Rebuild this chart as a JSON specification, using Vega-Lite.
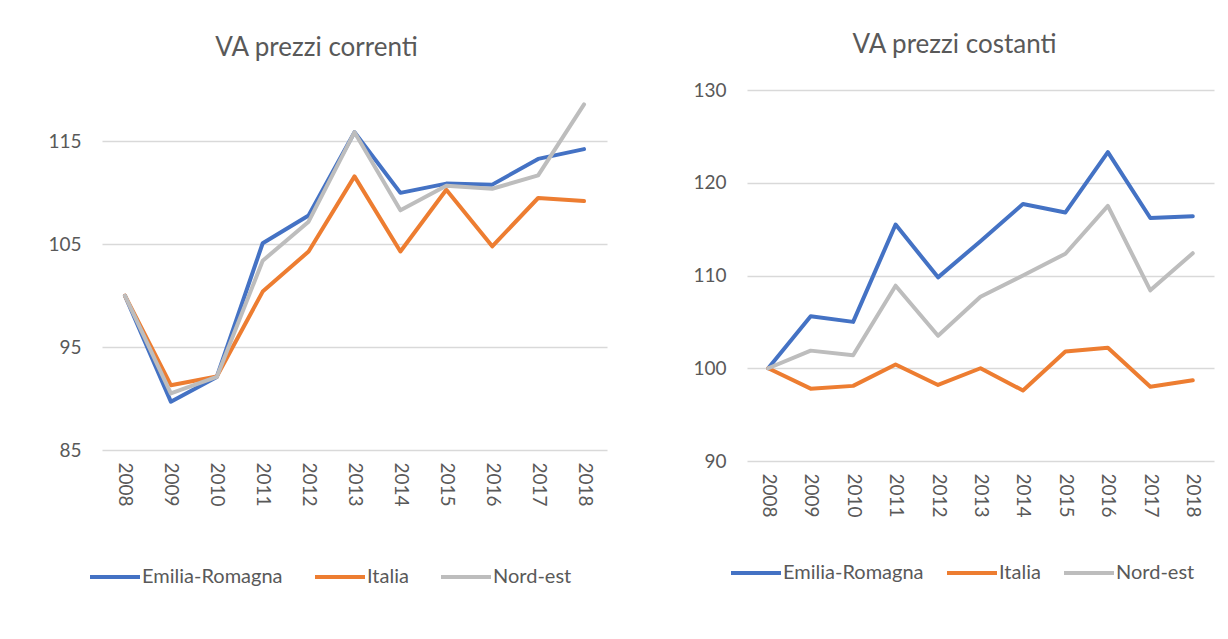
{
  "$schema": "https://vega.github.io/schema/vega-lite/v6.json",
  "background": "white",
  "padding": {"left": 47, "top": 32, "right": 5, "bottom": 5},
  "spacing": 85,
  "datasets": {
    "correnti": [
      {"anno": "2008", "serie": "Emilia-Romagna", "valore": 100.0},
      {"anno": "2009", "serie": "Emilia-Romagna", "valore": 89.7},
      {"anno": "2010", "serie": "Emilia-Romagna", "valore": 92.1},
      {"anno": "2011", "serie": "Emilia-Romagna", "valore": 105.1},
      {"anno": "2012", "serie": "Emilia-Romagna", "valore": 107.8},
      {"anno": "2013", "serie": "Emilia-Romagna", "valore": 115.9},
      {"anno": "2014", "serie": "Emilia-Romagna", "valore": 110.0},
      {"anno": "2015", "serie": "Emilia-Romagna", "valore": 110.9},
      {"anno": "2016", "serie": "Emilia-Romagna", "valore": 110.8},
      {"anno": "2017", "serie": "Emilia-Romagna", "valore": 113.3},
      {"anno": "2018", "serie": "Emilia-Romagna", "valore": 114.25},
      {"anno": "2008", "serie": "Italia", "valore": 100.0},
      {"anno": "2009", "serie": "Italia", "valore": 91.3},
      {"anno": "2010", "serie": "Italia", "valore": 92.15},
      {"anno": "2011", "serie": "Italia", "valore": 100.4},
      {"anno": "2012", "serie": "Italia", "valore": 104.3},
      {"anno": "2013", "serie": "Italia", "valore": 111.6},
      {"anno": "2014", "serie": "Italia", "valore": 104.3},
      {"anno": "2015", "serie": "Italia", "valore": 110.3},
      {"anno": "2016", "serie": "Italia", "valore": 104.8},
      {"anno": "2017", "serie": "Italia", "valore": 109.5},
      {"anno": "2018", "serie": "Italia", "valore": 109.2},
      {"anno": "2008", "serie": "Nord-est", "valore": 100.0},
      {"anno": "2009", "serie": "Nord-est", "valore": 90.5},
      {"anno": "2010", "serie": "Nord-est", "valore": 92.1},
      {"anno": "2011", "serie": "Nord-est", "valore": 103.4},
      {"anno": "2012", "serie": "Nord-est", "valore": 107.2},
      {"anno": "2013", "serie": "Nord-est", "valore": 115.9},
      {"anno": "2014", "serie": "Nord-est", "valore": 108.3},
      {"anno": "2015", "serie": "Nord-est", "valore": 110.7},
      {"anno": "2016", "serie": "Nord-est", "valore": 110.4},
      {"anno": "2017", "serie": "Nord-est", "valore": 111.7},
      {"anno": "2018", "serie": "Nord-est", "valore": 118.6}
    ],
    "costanti": [
      {"anno": "2008", "serie": "Emilia-Romagna", "valore": 100.0},
      {"anno": "2009", "serie": "Emilia-Romagna", "valore": 105.6},
      {"anno": "2010", "serie": "Emilia-Romagna", "valore": 105.0},
      {"anno": "2011", "serie": "Emilia-Romagna", "valore": 115.5},
      {"anno": "2012", "serie": "Emilia-Romagna", "valore": 109.8},
      {"anno": "2013", "serie": "Emilia-Romagna", "valore": 113.7},
      {"anno": "2014", "serie": "Emilia-Romagna", "valore": 117.7},
      {"anno": "2015", "serie": "Emilia-Romagna", "valore": 116.8},
      {"anno": "2016", "serie": "Emilia-Romagna", "valore": 123.3},
      {"anno": "2017", "serie": "Emilia-Romagna", "valore": 116.2},
      {"anno": "2018", "serie": "Emilia-Romagna", "valore": 116.4},
      {"anno": "2008", "serie": "Italia", "valore": 100.0},
      {"anno": "2009", "serie": "Italia", "valore": 97.8},
      {"anno": "2010", "serie": "Italia", "valore": 98.1},
      {"anno": "2011", "serie": "Italia", "valore": 100.4},
      {"anno": "2012", "serie": "Italia", "valore": 98.2},
      {"anno": "2013", "serie": "Italia", "valore": 100.0},
      {"anno": "2014", "serie": "Italia", "valore": 97.6},
      {"anno": "2015", "serie": "Italia", "valore": 101.8},
      {"anno": "2016", "serie": "Italia", "valore": 102.2},
      {"anno": "2017", "serie": "Italia", "valore": 98.0},
      {"anno": "2018", "serie": "Italia", "valore": 98.7},
      {"anno": "2008", "serie": "Nord-est", "valore": 100.0},
      {"anno": "2009", "serie": "Nord-est", "valore": 101.9},
      {"anno": "2010", "serie": "Nord-est", "valore": 101.4},
      {"anno": "2011", "serie": "Nord-est", "valore": 108.9},
      {"anno": "2012", "serie": "Nord-est", "valore": 103.5},
      {"anno": "2013", "serie": "Nord-est", "valore": 107.7},
      {"anno": "2014", "serie": "Nord-est", "valore": 110.0},
      {"anno": "2015", "serie": "Nord-est", "valore": 112.35},
      {"anno": "2016", "serie": "Nord-est", "valore": 117.5},
      {"anno": "2017", "serie": "Nord-est", "valore": 108.4},
      {"anno": "2018", "serie": "Nord-est", "valore": 112.4}
    ]
  },
  "resolve": {"legend": {"color": "independent"}},
  "hconcat": [
    {
      "title": {"text": "VA prezzi correnti", "offset": 29, "dx": -38},
      "width": 505,
      "height": 360,
      "data": {"name": "correnti"},
      "mark": {"type": "line", "strokeWidth": 4, "strokeCap": "round", "strokeJoin": "round"},
      "encoding": {
        "x": {"field": "anno", "type": "ordinal", "title": null, "scale": {"type": "point", "padding": 0.5}},
        "y": {"field": "valore", "type": "quantitative", "title": null,
              "scale": {"domain": [85, 120], "nice": false, "zero": false},
              "axis": {"values": [85, 95, 105, 115]}},
        "color": {"field": "serie", "type": "nominal", "title": null,
                  "scale": {"domain": ["Emilia-Romagna", "Italia", "Nord-est"], "range": ["#4472C4", "#ED7D31", "#BDBDBD"]},
                  "legend": {"columnPadding": 24, "orient": "none", "legendX": -14, "legendY": 460}}
      }
    },
    {
      "title": {"text": "VA prezzi costanti", "offset": 23, "dx": -26},
      "width": 467,
      "height": 371,
      "data": {"name": "costanti"},
      "mark": {"type": "line", "strokeWidth": 4, "strokeCap": "round", "strokeJoin": "round"},
      "encoding": {
        "x": {"field": "anno", "type": "ordinal", "title": null, "scale": {"type": "point", "padding": 0.5}},
        "y": {"field": "valore", "type": "quantitative", "title": null,
              "scale": {"domain": [90, 130], "nice": false, "zero": false},
              "axis": {"values": [90, 100, 110, 120, 130]}},
        "color": {"field": "serie", "type": "nominal", "title": null,
                  "scale": {"domain": ["Emilia-Romagna", "Italia", "Nord-est"], "range": ["#4472C4", "#ED7D31", "#BDBDBD"]},
                  "legend": {"columnPadding": 15, "orient": "none", "legendX": -18, "legendY": 456}}
      }
    }
  ],
  "config": {
    "font": "Lato",
    "view": {"stroke": null},
    "title": {"fontSize": 26, "fontWeight": "normal", "color": "#595959", "anchor": "middle"},
    "axisY": {"domain": false, "ticks": false, "gridColor": "#D9D9D9", "gridWidth": 1.3, "labelFontSize": 19, "labelColor": "#595959", "labelPadding": 21},
    "axisX": {"domain": false, "ticks": false, "grid": false, "labelAngle": 90, "labelFontSize": 19, "labelColor": "#595959", "labelPadding": 12},
    "legend": {"direction": "horizontal", "symbolType": "stroke", "symbolStrokeWidth": 4, "symbolSize": 2500, "labelFontSize": 20, "labelColor": "#595959", "labelOffset": 0}
  }
}
